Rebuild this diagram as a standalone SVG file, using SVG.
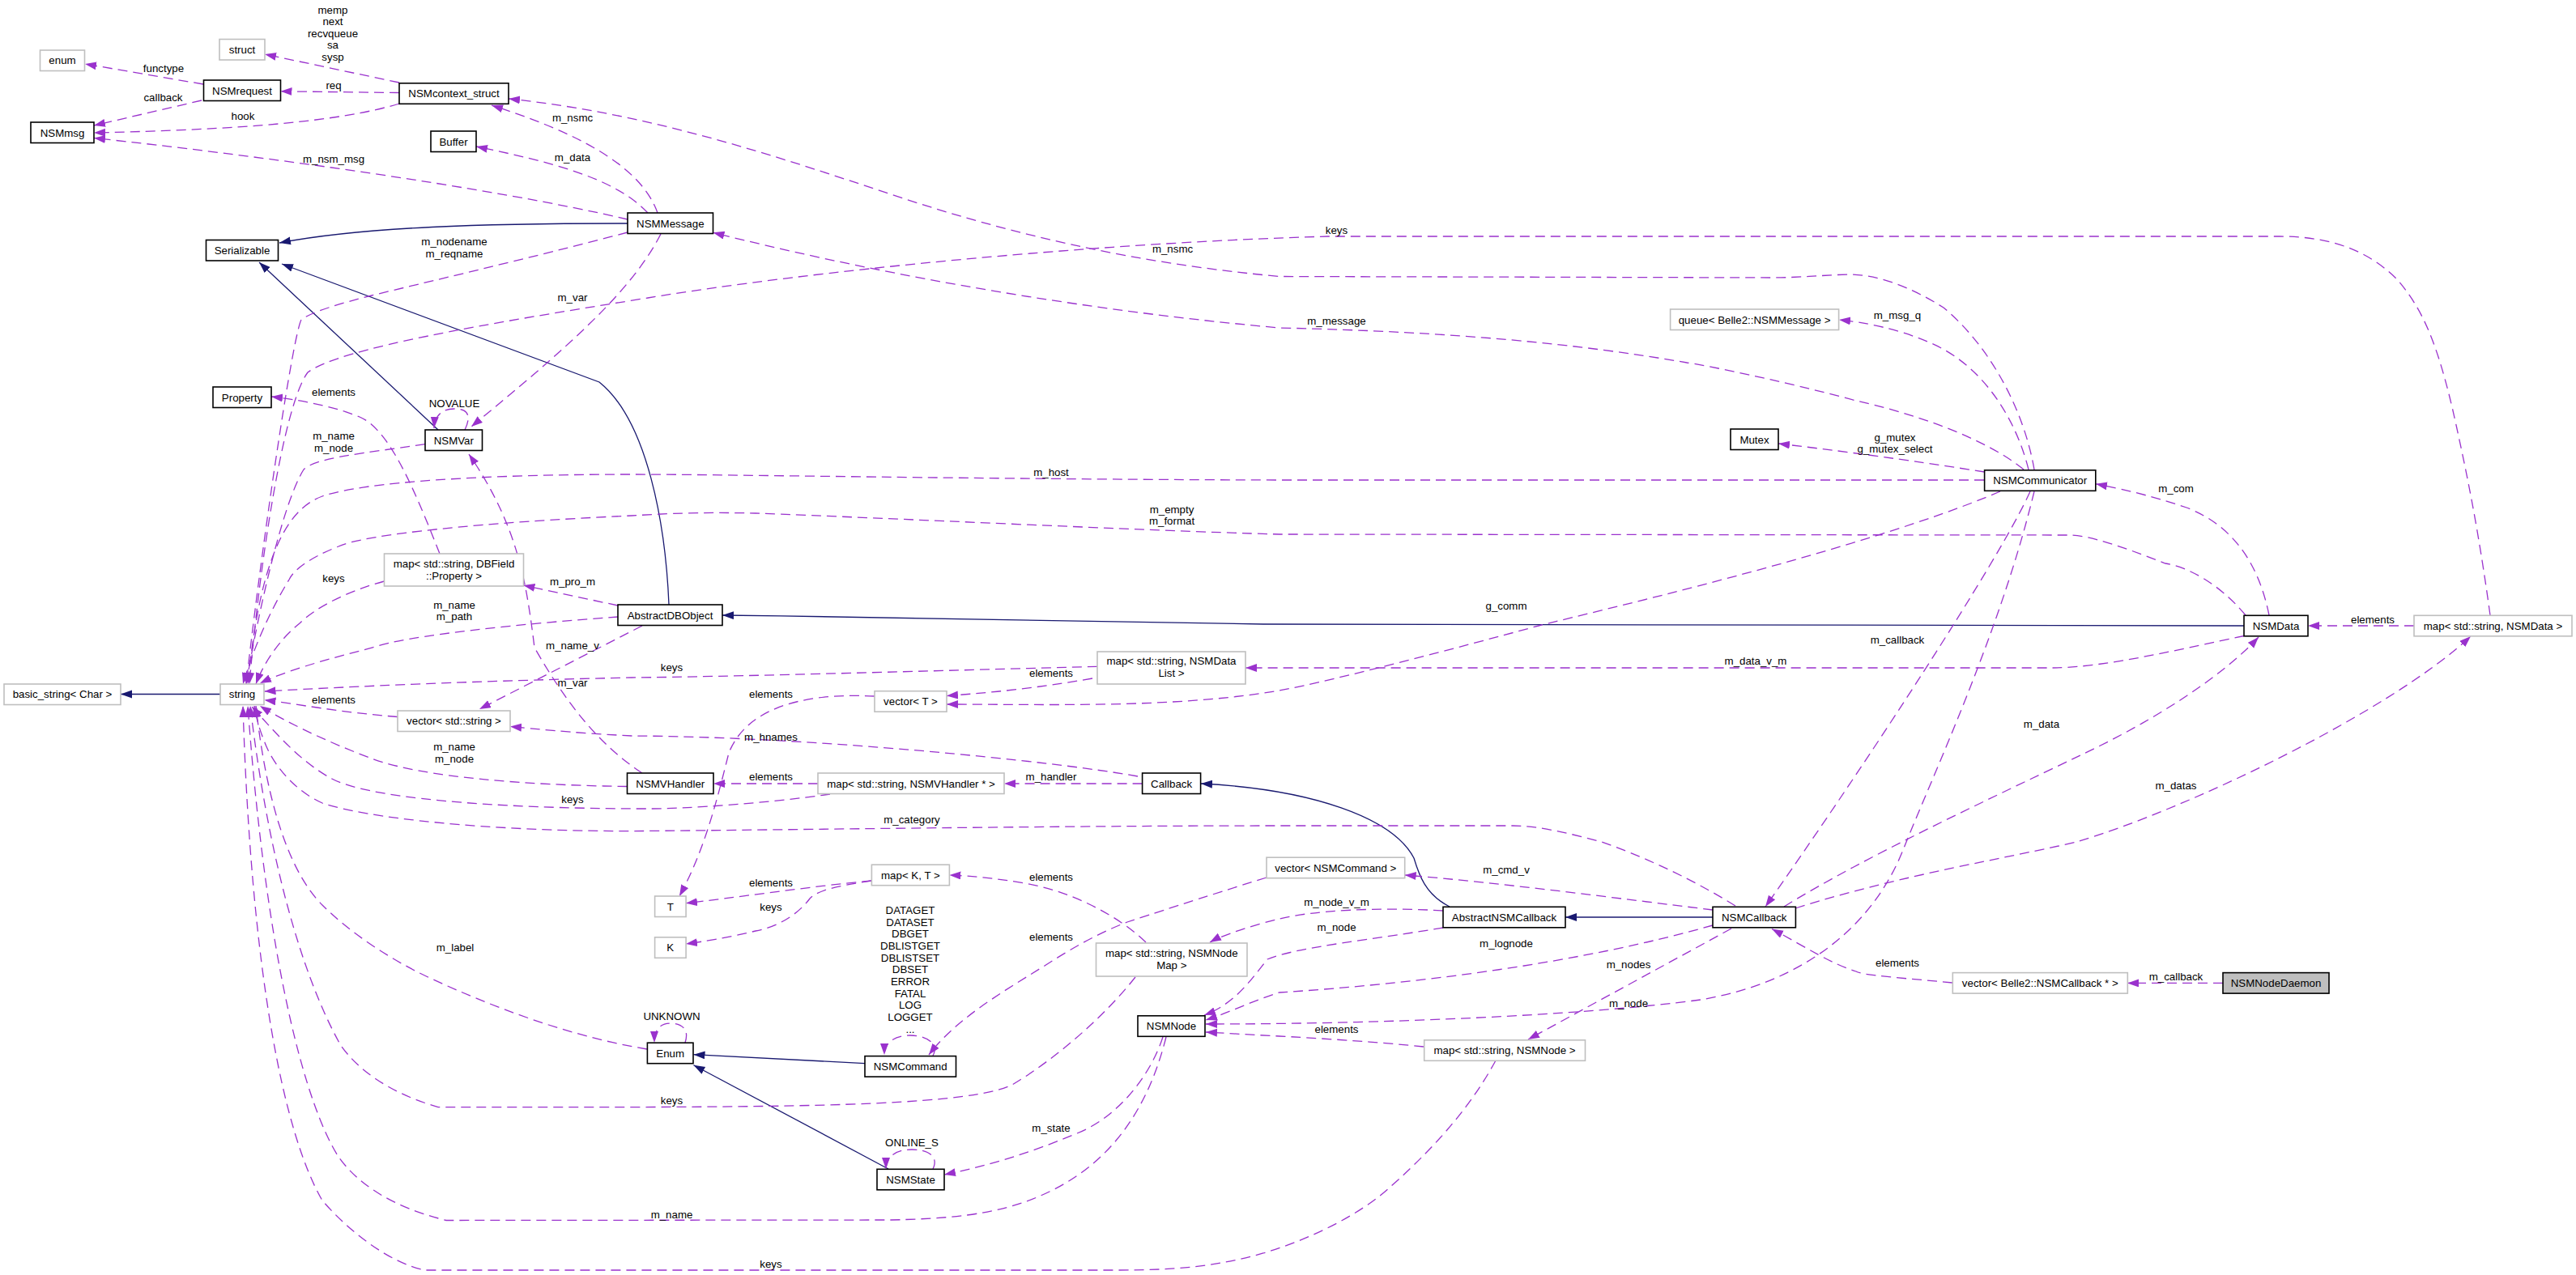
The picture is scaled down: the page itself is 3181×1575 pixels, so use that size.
<svg xmlns="http://www.w3.org/2000/svg" width="3181" height="1575" viewBox="0 0 3181 1575">
<style>
text{font-family:"Liberation Sans",Arial,sans-serif;font-size:13.3px;fill:#000;text-anchor:middle}
.n rect{fill:#fff;stroke:#000;stroke-width:1.6}
.g rect{fill:#fff;stroke:#bfbfbf;stroke-width:1.6}
.r rect{fill:#bfbfbf;stroke:#000;stroke-width:1.6}
.u{fill:none;stroke:#9a32cd;stroke-width:1.3;stroke-dasharray:12,7;marker-end:url(#ap)}
.i{fill:none;stroke:#191970;stroke-width:1.3;marker-end:url(#ab)}
</style>
<defs>
<marker id="ap" markerUnits="userSpaceOnUse" markerWidth="16" markerHeight="12" refX="14" refY="5" orient="auto"><path d="M0,0 L14,5 L0,10 z" fill="#9a32cd"/></marker>
<marker id="ab" markerUnits="userSpaceOnUse" markerWidth="16" markerHeight="12" refX="14" refY="5" orient="auto"><path d="M0,0 L14,5 L0,10 z" fill="#191970"/></marker>
</defs>
<rect width="3181" height="1575" fill="#fff"/>
<g id="connectors">
<path class="i" d="M775,276 C600,276 450,280 345,300"/>
<path class="i" d="M541,531 L320,324"/>
<path class="i" d="M826,747 C822,650 800,520 740,472 L348,326"/>
<path class="i" d="M272,857.5 L149,857.5"/>
<path class="i" d="M2771,773 L1560,771 C1300,768 1100,762 892,760"/>
<path class="i" d="M1068,1313.6 L856.5,1302.7"/>
<path class="i" d="M1097,1444 L856.5,1315.7"/>
<path class="i" d="M1790,1120 C1760,1105 1752,1080 1746,1060 C1720,1010 1620,975 1483,968"/>
<path class="i" d="M2115,1133 L1933,1133"/>

<path class="u" d="M251,104 L105,79"/>
<path class="u" d="M249,124 L116,155"/>
<path class="u" d="M493,102 L327,67"/>
<path class="u" d="M493,114.5 L346.5,112.8"/>
<path class="u" d="M493,128 C420,150 300,160 116,164"/>
<path class="u" d="M775,271 C600,230 300,190 116,170.5"/>
<path class="u" d="M812,263 C790,200 700,160 607,130"/>
<path class="u" d="M800,263 C760,220 680,200 588,181"/>
<path class="u" d="M775,287 C650,320 520,350 459,365 C420,375 385,385 372,395 C360,420 320,700 304,845"/>
<path class="u" d="M816,289 C780,360 700,430 582,527"/>
<path class="u" d="M574,531 C585,508 572,505 561,505 C548,505 537,511 536,529"/>
<path class="u" d="M525,548.6 C450,560 390,565 375,580 C350,620 320,750 304,845"/>
<path class="u" d="M793,955 C740,920 700,870 660,800 C650,720 640,650 579,561"/>
<path class="u" d="M543,684 C510,600 480,530 444,515 C420,505 380,495 335,490"/>
<path class="u" d="M474.5,718 C430,730 390,750 370,770 C345,790 325,820 316,845"/>
<path class="u" d="M763,748 L646.4,723"/>
<path class="u" d="M763,762 C650,770 500,785 460,800 C400,815 350,830 321,844"/>
<path class="u" d="M793,773 L592,876"/>
<path class="u" d="M491,885.5 C420,880 370,870 326.5,864.7"/>
<path class="u" d="M774.5,971.5 C650,970 520,960 459,937 C400,915 350,890 321,872"/>
<path class="u" d="M1025,981 C950,992 850,999 800,999 C600,999 450,985 408,961 C370,940 340,905 311,873"/>
<path class="u" d="M1010,968 L881,968"/>
<path class="u" d="M1410.6,968 L1240,968"/>
<path class="u" d="M1405,959 C1300,940 1000,910 780,909 C700,905 660,900 630,897.5"/>
<path class="u" d="M1355,823.4 C1100,830 900,836 780,837 C550,842 400,850 326.5,854"/>
<path class="u" d="M1349,838 C1280,850 1230,855 1169,859.6"/>
<path class="u" d="M2771,785.5 C2700,800 2600,825 2533,825 L1538,825"/>
<path class="u" d="M2470,607 C2300,680 1950,760 1900,773 C1800,800 1650,840 1580,853 C1450,875 1300,870 1169,870"/>
<path class="u" d="M2499,580 C2450,540 2360,510 2292,495 C2200,470 2100,450 2083,448 C1950,425 1800,410 1580,405 C1300,380 1050,330 880.5,287.3"/>
<path class="u" d="M2505,580 C2490,520 2450,450 2380,422 C2340,405 2300,398 2271,395"/>
<path class="u" d="M2450.6,583 C2400,575 2300,560 2196,548"/>
<path class="u" d="M2450,593 L1580,593 C1200,592 900,586 780,586 C600,586 450,595 398,613 C350,630 320,700 306,845"/>
<path class="u" d="M2773,760 C2740,720 2700,700 2674,696 C2620,675 2580,661 2554,661 L1580,660 C1400,655 1100,640 933,634 C850,632 800,636 780,637 C600,645 450,660 418,675 C380,690 362,705 357,716 C330,760 310,810 300,845"/>
<path class="u" d="M2802,760 C2790,700 2760,650 2700,627 C2650,610 2610,602 2588,597.8"/>
<path class="u" d="M2981,773 L2850,773"/>
<path class="u" d="M2203,1120 C2300,1060 2450,990 2569,933 C2650,895 2740,840 2789,787"/>
<path class="u" d="M2217,1122 C2350,1080 2480,1060 2564,1040 C2700,1000 2950,880 3051,786"/>
<path class="u" d="M2507,607 C2470,690 2300,950 2180,1120"/>
<path class="u" d="M2512,607 C2470,780 2390,950 2350,1050 C2310,1150 2220,1215 2100,1235 C1950,1255 1700,1265 1489,1265"/>
<path class="u" d="M2138,1147 L1887,1284"/>
<path class="u" d="M2115,1124 C2000,1110 1850,1090 1734.7,1081"/>
<path class="u" d="M2411,1214 C2350,1208 2300,1205 2292,1200 C2260,1190 2230,1170 2188,1147.5"/>
<path class="u" d="M2745,1214.4 L2627,1214.4"/>
<path class="u" d="M2143,1119 C2080,1080 2020,1055 1978,1040 C1940,1030 1900,1020 1868,1020 L1580,1020 C1300,1020 1000,1025 780,1026.6 C600,1027 450,1010 398,992 C360,975 335,940 326.5,916 C320,900 316,885 314,872"/>
<path class="u" d="M1782,1125 C1700,1120 1620,1125 1580,1135 C1550,1142 1510,1155 1494,1164"/>
<path class="u" d="M1782,1146 C1700,1160 1600,1170 1565,1185 C1545,1210 1525,1240 1487,1254"/>
<path class="u" d="M2115,1143 C1950,1190 1750,1215 1580,1226 C1550,1235 1520,1250 1489,1260"/>
<path class="u" d="M1758,1293 C1700,1287 1620,1282 1580,1280 C1540,1278 1510,1276 1489,1275"/>
<path class="u" d="M1564,1084 C1480,1110 1420,1130 1392,1139 C1350,1155 1310,1180 1290,1193 C1230,1230 1180,1260 1147,1303"/>
<path class="u" d="M1152,1304 C1160,1290 1145,1279 1124,1279 C1105,1279 1092,1288 1092,1303"/>
<path class="u" d="M846,1288 C852,1270 840,1264 828,1264 C815,1264 808,1272 808,1288"/>
<path class="u" d="M1152,1444 C1160,1428 1145,1420 1126,1420 C1105,1420 1094,1430 1094,1444"/>
<path class="u" d="M799,1296 C700,1280 600,1240 535,1210 C480,1185 430,1150 398,1118 C360,1080 330,1000 316,872"/>
<path class="u" d="M1402,1207 C1360,1260 1300,1310 1250,1340 C1200,1365 1000,1367 780,1367.6 L541,1367.6 C480,1350 440,1320 420,1290 C370,1200 330,1050 309,872"/>
<path class="u" d="M1436,1281 C1420,1330 1380,1380 1330,1400 C1270,1425 1220,1440 1166,1451"/>
<path class="u" d="M1440,1281 C1420,1360 1380,1430 1300,1470 C1250,1495 1200,1505 1100,1507 L551,1507.5 C480,1490 440,1460 418,1429 C380,1370 330,1200 306,872"/>
<path class="u" d="M1847,1310 C1820,1360 1780,1410 1717,1466 C1680,1500 1620,1530 1560,1548 C1500,1565 1450,1569 1380,1569 L525,1569 C480,1560 430,1520 398,1483 C350,1400 310,1200 300,872"/>
<path class="u" d="M1076,1088 C1000,1095 900,1110 847,1115.7"/>
<path class="u" d="M1076,1088 C1030,1095 1010,1100 1000,1110 C985,1130 960,1145 933,1150 C900,1158 870,1163 847,1166"/>
<path class="u" d="M1080,860 C980,855 920,880 900,930 C885,990 870,1050 839,1107"/>
<path class="u" d="M1415,1164 C1380,1130 1320,1100 1265,1091 C1230,1085 1200,1082 1172.4,1081"/>
<path class="u" d="M3075,760 C3060,650 3045,580 3033,525 C3010,420 2990,380 2960,345 C2920,305 2870,292 2815,292 L1640,292 C1350,300 1000,335 800,368 C600,400 420,430 380,460 C350,500 320,700 308,845"/>
<path class="u" d="M2512,580 C2500,510 2460,430 2400,380 C2360,355 2320,339 2282,339 C2250,340 2220,343 2188,343 L1580,341.5 C1400,325 1250,290 1100,240 C950,190 800,140 628,122"/>
</g>
<g id="edge-labels">
<text x="411" y="16.5">memp<tspan x="411" dy="14.6">next</tspan><tspan x="411" dy="14.6">recvqueue</tspan><tspan x="411" dy="14.6">sa</tspan><tspan x="411" dy="14.6">sysp</tspan></text>
<text x="202" y="88.5">functype</text>
<text x="412" y="110">req</text>
<text x="201.5" y="125">callback</text>
<text x="300" y="147.5">hook</text>
<text x="707" y="149.5">m_nsmc</text>
<text x="707" y="198.5">m_data</text>
<text x="412" y="200.5">m_nsm_msg</text>
<text x="561" y="303">m_nodename<tspan x="561" dy="14.6">m_reqname</tspan></text>
<text x="707" y="372">m_var</text>
<text x="412" y="488.5">elements</text>
<text x="561" y="502.5">NOVALUE</text>
<text x="1650.5" y="288.5">keys</text>
<text x="1448" y="311.5">m_nsmc</text>
<text x="1650.5" y="400.5">m_message</text>
<text x="2343" y="393.5">m_msg_q</text>
<text x="2340" y="544.5">g_mutex<tspan x="2340" dy="14.6">g_mutex_select</tspan></text>
<text x="412" y="543">m_name<tspan x="412" dy="14.6">m_node</tspan></text>
<text x="1298" y="587.5">m_host</text>
<text x="2687" y="607.5">m_com</text>
<text x="1447" y="633.5">m_empty<tspan x="1447" dy="14.6">m_format</tspan></text>
<text x="412" y="719">keys</text>
<text x="707" y="723">m_pro_m</text>
<text x="561" y="751.5">m_name<tspan x="561" dy="14.6">m_path</tspan></text>
<text x="1860" y="753">g_comm</text>
<text x="2930" y="769.5">elements</text>
<text x="2343" y="795">m_callback</text>
<text x="707" y="801.5">m_name_v</text>
<text x="2168" y="821">m_data_v_m</text>
<text x="829.5" y="829">keys</text>
<text x="1298" y="836">elements</text>
<text x="707" y="847.5">m_var</text>
<text x="952" y="861.5">elements</text>
<text x="412" y="869">elements</text>
<text x="2521" y="899">m_data</text>
<text x="952" y="915">m_hnames</text>
<text x="561" y="927">m_name<tspan x="561" dy="14.6">m_node</tspan></text>
<text x="952" y="964">elements</text>
<text x="1298" y="964">m_handler</text>
<text x="2687" y="975">m_datas</text>
<text x="707" y="992">keys</text>
<text x="1126" y="1016.5">m_category</text>
<text x="1860" y="1079">m_cmd_v</text>
<text x="1298" y="1088">elements</text>
<text x="952" y="1095">elements</text>
<text x="1650.5" y="1119">m_node_v_m</text>
<text x="952" y="1124.5">keys</text>
<text x="1124" y="1128.8">DATAGET<tspan x="1124" dy="14.7">DATASET</tspan><tspan x="1124" dy="14.7">DBGET</tspan><tspan x="1124" dy="14.7">DBLISTGET</tspan><tspan x="1124" dy="14.7">DBLISTSET</tspan><tspan x="1124" dy="14.7">DBSET</tspan><tspan x="1124" dy="14.7">ERROR</tspan><tspan x="1124" dy="14.7">FATAL</tspan><tspan x="1124" dy="14.7">LOG</tspan><tspan x="1124" dy="14.7">LOGGET</tspan><tspan x="1124" dy="14.7">...</tspan></text>
<text x="1650.5" y="1149.5">m_node</text>
<text x="1298" y="1161.5">elements</text>
<text x="1860" y="1169.5">m_lognode</text>
<text x="562" y="1175">m_label</text>
<text x="2343" y="1193.5">elements</text>
<text x="2011" y="1196">m_nodes</text>
<text x="2687" y="1211">m_callback</text>
<text x="2011" y="1244">m_node</text>
<text x="829.5" y="1259.5">UNKNOWN</text>
<text x="1650.5" y="1276">elements</text>
<text x="829.5" y="1364">keys</text>
<text x="1298" y="1397.5">m_state</text>
<text x="1126" y="1415.5">ONLINE_S</text>
<text x="829.5" y="1504.5">m_name</text>
<text x="952" y="1565.5">keys</text>
</g>
<g id="enum" class="g"><rect x="49.5" y="62" width="55" height="25.5"/><text x="77" y="79.4">enum</text></g>
<g id="struct" class="g"><rect x="271" y="48.5" width="56" height="25.5"/><text x="299" y="66">struct</text></g>
<g id="NSMrequest" class="n"><rect x="251.5" y="99" width="95" height="25.5"/><text x="299" y="116.6">NSMrequest</text></g>
<g id="NSMcontext_struct" class="n"><rect x="493" y="102.8" width="135" height="25.5"/><text x="560.5" y="120.3">NSMcontext_struct</text></g>
<g id="NSMmsg" class="n"><rect x="38" y="151" width="78" height="25.5"/><text x="77" y="168.6">NSMmsg</text></g>
<g id="Buffer" class="n"><rect x="532" y="162" width="56" height="25.5"/><text x="560" y="179.5">Buffer</text></g>
<g id="Serializable" class="n"><rect x="254.5" y="296.5" width="89" height="25.5"/><text x="299" y="314">Serializable</text></g>
<g id="NSMMessage" class="n"><rect x="775" y="263" width="105.5" height="25.5"/><text x="827.8" y="280.6">NSMMessage</text></g>
<g id="Property" class="n"><rect x="263" y="478" width="72" height="25.5"/><text x="299" y="495.5">Property</text></g>
<g id="NSMVar" class="n"><rect x="525" y="531" width="70.5" height="25.5"/><text x="560.3" y="548.5">NSMVar</text></g>
<g id="map_DBField" class="g"><rect x="474.5" y="684" width="172" height="40"/><text x="560.5" y="700.5">map&lt; std::string, DBField<tspan x="560.5" dy="15">::Property &gt;</tspan></text></g>
<g id="AbstractDBObject" class="n"><rect x="763" y="747" width="129" height="25.5"/><text x="827.5" y="764.6">AbstractDBObject</text></g>
<g id="basic_string" class="g"><rect x="5" y="845" width="144" height="25.5"/><text x="77" y="862.3">basic_string&lt; Char &gt;</text></g>
<g id="string" class="g"><rect x="272" y="845" width="54" height="25.5"/><text x="299" y="862.3">string</text></g>
<g id="vector_string" class="g"><rect x="491" y="878" width="139" height="25.5"/><text x="560.5" y="895.3">vector&lt; std::string &gt;</text></g>
<g id="NSMVHandler" class="n"><rect x="774.5" y="955" width="106.5" height="25.5"/><text x="827.8" y="972.5">NSMVHandler</text></g>
<g id="map_NSMDataList" class="g"><rect x="1355" y="805" width="183" height="40"/><text x="1446.5" y="821">map&lt; std::string, NSMData<tspan x="1446.5" dy="15">List &gt;</tspan></text></g>
<g id="vector_T" class="g"><rect x="1080" y="853.7" width="89" height="25.5"/><text x="1124.5" y="871.2">vector&lt; T &gt;</text></g>
<g id="map_NSMVHandler" class="g"><rect x="1010" y="955" width="230" height="25.5"/><text x="1125" y="972.5">map&lt; std::string, NSMVHandler * &gt;</text></g>
<g id="Callback" class="n"><rect x="1410.6" y="955" width="72" height="25.5"/><text x="1446.6" y="972.5">Callback</text></g>
<g id="queue" class="g"><rect x="2062.6" y="382" width="208" height="25.5"/><text x="2166.6" y="399.5">queue&lt; Belle2::NSMMessage &gt;</text></g>
<g id="Mutex" class="n"><rect x="2137" y="530" width="59" height="25.5"/><text x="2166.5" y="547.5">Mutex</text></g>
<g id="NSMCommunicator" class="n"><rect x="2450.6" y="580.8" width="137.2" height="25.5"/><text x="2519.2" y="598.3">NSMCommunicator</text></g>
<g id="NSMData" class="n"><rect x="2771" y="760.3" width="79" height="25.5"/><text x="2810.5" y="777.8">NSMData</text></g>
<g id="map_NSMData" class="g"><rect x="2981" y="760.3" width="195" height="25.5"/><text x="3078.5" y="777.8">map&lt; std::string, NSMData &gt;</text></g>
<g id="map_K_T" class="g"><rect x="1076.4" y="1068.2" width="96" height="25.5"/><text x="1124.4" y="1085.7">map&lt; K, T &gt;</text></g>
<g id="T" class="g"><rect x="808.6" y="1107" width="38.5" height="25.5"/><text x="827.8" y="1124.5">T</text></g>
<g id="K" class="g"><rect x="808.6" y="1157.8" width="38.5" height="25.5"/><text x="827.8" y="1175.3">K</text></g>
<g id="map_NSMNodeMap" class="g"><rect x="1353.5" y="1165" width="186.5" height="41"/><text x="1446.8" y="1181.5">map&lt; std::string, NSMNode<tspan x="1446.8" dy="15">Map &gt;</tspan></text></g>
<g id="Enum" class="n"><rect x="799.4" y="1288.2" width="56.6" height="25.5"/><text x="827.7" y="1305.7">Enum</text></g>
<g id="NSMCommand" class="n"><rect x="1068" y="1304.6" width="112.5" height="25.5"/><text x="1124.2" y="1322.1">NSMCommand</text></g>
<g id="NSMNode" class="n"><rect x="1405" y="1254.8" width="83" height="25.5"/><text x="1446.5" y="1272.3">NSMNode</text></g>
<g id="NSMState" class="n"><rect x="1083" y="1444.3" width="83" height="25.5"/><text x="1124.5" y="1461.8">NSMState</text></g>
<g id="vector_NSMCommand" class="g"><rect x="1564" y="1059.2" width="170.7" height="25.5"/><text x="1649.3" y="1076.7">vector&lt; NSMCommand &gt;</text></g>
<g id="AbstractNSMCallback" class="n"><rect x="1782" y="1120.3" width="151" height="25.5"/><text x="1857.5" y="1137.8">AbstractNSMCallback</text></g>
<g id="NSMCallback" class="n"><rect x="2115" y="1120.3" width="102.4" height="25.5"/><text x="2166.2" y="1137.8">NSMCallback</text></g>
<g id="map_NSMNode" class="g"><rect x="1758.7" y="1284.8" width="198.8" height="25.5"/><text x="1858" y="1302.3">map&lt; std::string, NSMNode &gt;</text></g>
<g id="vector_NSMCallback" class="g"><rect x="2411.3" y="1201.6" width="216" height="25.5"/><text x="2519.3" y="1219.1">vector&lt; Belle2::NSMCallback * &gt;</text></g>
<g id="NSMNodeDaemon" class="r"><rect x="2745" y="1201.6" width="131" height="25.5"/><text x="2810.5" y="1219.1">NSMNodeDaemon</text></g>
</svg>
